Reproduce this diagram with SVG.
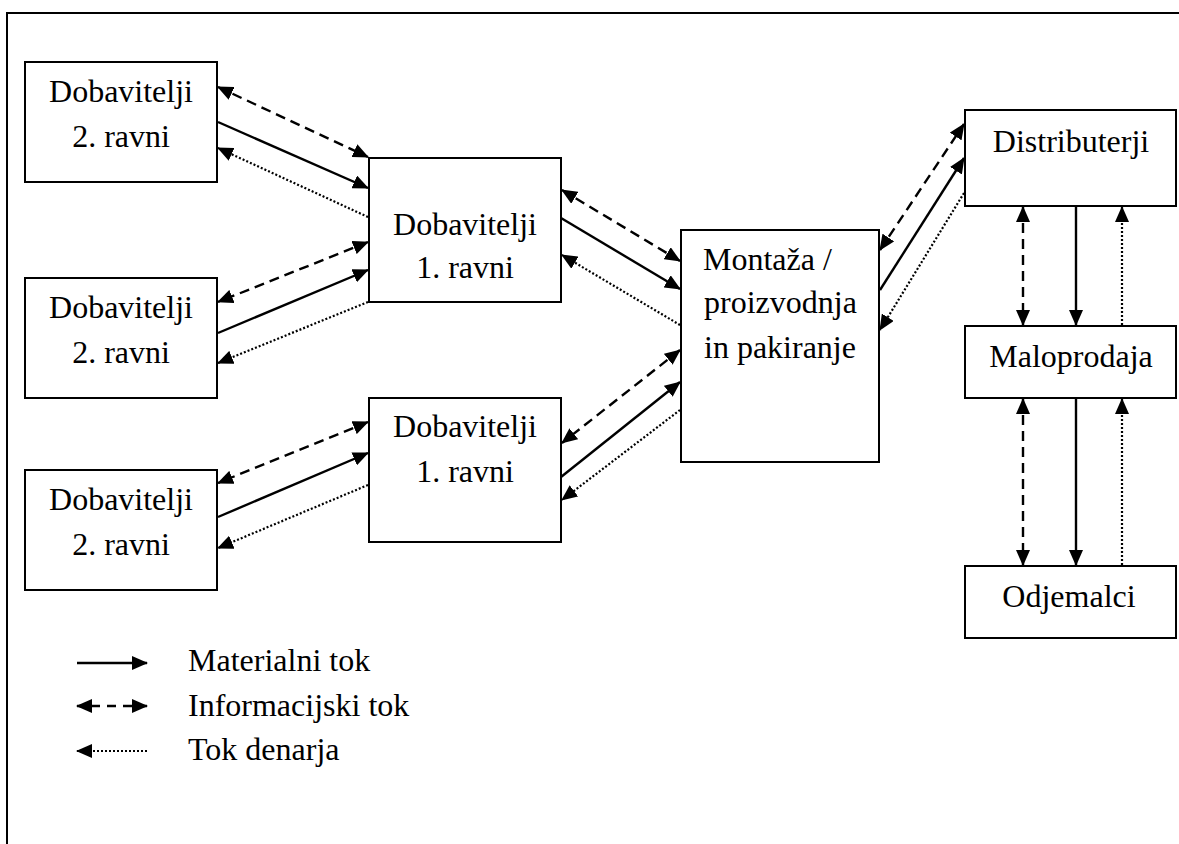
<svg xmlns="http://www.w3.org/2000/svg" width="1179" height="844" viewBox="0 0 1179 844" font-family="Liberation Serif, Times New Roman, serif">
<style>
text{font-family:'Liberation Serif','Times New Roman',Times,serif}
.t{font-size:32px;fill:#000}
.c{text-anchor:middle}
.box{fill:#fff;stroke:#000;stroke-width:2}
.sol{stroke:#000;stroke-width:2.4;fill:none}
.das{stroke:#000;stroke-width:2.4;fill:none;stroke-dasharray:10 6}
.dot{stroke:#000;stroke-width:2.2;fill:none;stroke-dasharray:2 2}
</style>
<defs>
<marker id="ah" markerUnits="userSpaceOnUse" markerWidth="16" markerHeight="14" refX="15" refY="7" orient="auto-start-reverse" viewBox="0 0 16 14">
<path d="M0,0 L16,7 L0,14 z" fill="#000"/>
</marker>
</defs>
<rect width="1179" height="844" fill="#fff"/>
<g id="frame">
<path d="M7,844 V13 H1179" fill="none" stroke="#000" stroke-width="2"/>
</g>
<g id="connectors">
<line class="das" x1="218" y1="87" x2="368" y2="157" marker-start="url(#ah)" marker-end="url(#ah)"/>
<line class="sol" x1="218" y1="122" x2="368" y2="188" marker-end="url(#ah)"/>
<line class="dot" x1="368" y1="217" x2="218" y2="148" marker-end="url(#ah)"/>
<line class="das" x1="368" y1="242" x2="218" y2="302" marker-start="url(#ah)" marker-end="url(#ah)"/>
<line class="sol" x1="218" y1="333" x2="368" y2="270" marker-end="url(#ah)"/>
<line class="dot" x1="368" y1="302" x2="218" y2="363" marker-end="url(#ah)"/>
<line class="das" x1="368" y1="422" x2="218" y2="483" marker-start="url(#ah)" marker-end="url(#ah)"/>
<line class="sol" x1="218" y1="517" x2="368" y2="453" marker-end="url(#ah)"/>
<line class="dot" x1="368" y1="485" x2="218" y2="548" marker-end="url(#ah)"/>
<line class="das" x1="562" y1="190" x2="680" y2="261" marker-start="url(#ah)" marker-end="url(#ah)"/>
<line class="sol" x1="561" y1="218" x2="680" y2="289" marker-end="url(#ah)"/>
<line class="dot" x1="680" y1="325" x2="562" y2="255" marker-end="url(#ah)"/>
<line class="das" x1="680" y1="350" x2="562" y2="443" marker-start="url(#ah)" marker-end="url(#ah)"/>
<line class="sol" x1="561" y1="477" x2="680" y2="382" marker-end="url(#ah)"/>
<line class="dot" x1="680" y1="410" x2="562" y2="500" marker-end="url(#ah)"/>
<line class="das" x1="880" y1="250" x2="964" y2="124" marker-start="url(#ah)" marker-end="url(#ah)"/>
<line class="sol" x1="880" y1="290" x2="964" y2="158" marker-end="url(#ah)"/>
<line class="dot" x1="964" y1="193" x2="880" y2="330" marker-end="url(#ah)"/>
<line class="das" x1="1023" y1="207" x2="1023" y2="325" marker-start="url(#ah)" marker-end="url(#ah)"/>
<line class="sol" x1="1076" y1="207" x2="1076" y2="325" marker-end="url(#ah)"/>
<line class="dot" x1="1122" y1="325" x2="1122" y2="207" marker-end="url(#ah)"/>
<line class="das" x1="1023" y1="399" x2="1023" y2="565" marker-start="url(#ah)" marker-end="url(#ah)"/>
<line class="sol" x1="1076" y1="399" x2="1076" y2="565" marker-end="url(#ah)"/>
<line class="dot" x1="1122" y1="565" x2="1122" y2="399" marker-end="url(#ah)"/>
</g>
<g id="a1"><rect class="box" x="25" y="62" width="192" height="120"/><text class="t c" x="121" y="102">Dobavitelji</text><text class="t c" x="121" y="147">2. ravni</text></g>
<g id="a2"><rect class="box" x="25" y="278" width="192" height="120"/><text class="t c" x="121" y="318">Dobavitelji</text><text class="t c" x="121" y="363">2. ravni</text></g>
<g id="a3"><rect class="box" x="25" y="470" width="192" height="120"/><text class="t c" x="121" y="510">Dobavitelji</text><text class="t c" x="121" y="555">2. ravni</text></g>
<g id="b1"><rect class="box" x="369" y="158" width="192" height="144"/><text class="t c" x="465" y="235">Dobavitelji</text><text class="t c" x="465" y="278">1. ravni</text></g>
<g id="b2"><rect class="box" x="369" y="398" width="192" height="144"/><text class="t c" x="465" y="437">Dobavitelji</text><text class="t c" x="465" y="482">1. ravni</text></g>
<g id="c"><rect class="box" x="681" y="230" width="198" height="232"/><text class="t" x="703" y="270">Montaža /</text><text class="t" x="704" y="313">proizvodnja</text><text class="t" x="704" y="358">in pakiranje</text></g>
<g id="d"><rect class="box" x="965" y="110" width="211" height="96"/><text class="t c" x="1071" y="152">Distributerji</text></g>
<g id="m"><rect class="box" x="965" y="326" width="211" height="72"/><text class="t c" x="1071" y="367">Maloprodaja</text></g>
<g id="o"><rect class="box" x="965" y="566" width="211" height="72"/><text class="t c" x="1069" y="607">Odjemalci</text></g>
<g id="legend">
<line class="sol" x1="77" y1="663" x2="147" y2="663" marker-end="url(#ah)"/>
<line class="das" x1="77" y1="706" x2="147" y2="706" marker-start="url(#ah)" marker-end="url(#ah)" style="stroke-dasharray:9 7;stroke-dashoffset:-14"/>
<line class="dot" x1="147" y1="751" x2="77" y2="751" marker-end="url(#ah)"/>
<text class="t" x="188" y="671">Materialni tok</text>
<text class="t" x="188" y="716">Informacijski tok</text>
<text class="t" x="188" y="760">Tok denarja</text>
</g>
</svg>
